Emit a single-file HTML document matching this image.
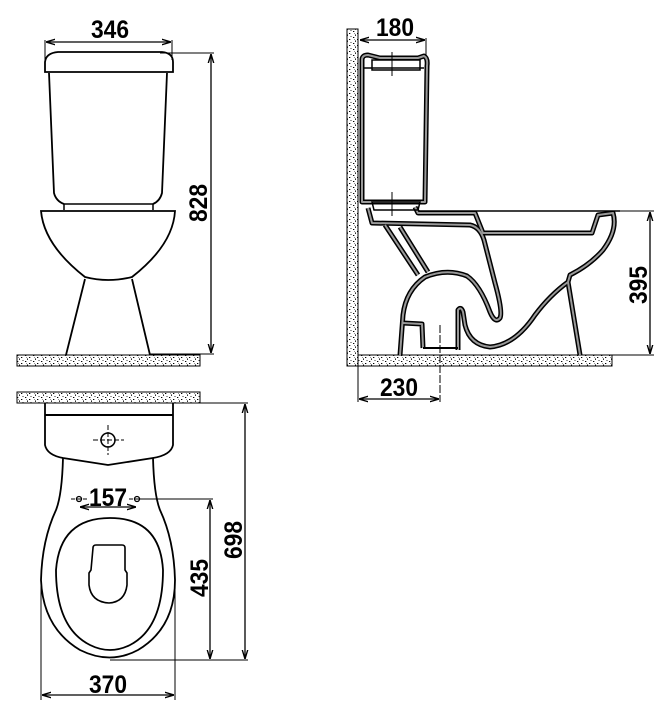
<!DOCTYPE html>
<html><head><meta charset="utf-8"><style>
html,body{margin:0;padding:0;background:#fff;width:671px;height:713px;overflow:hidden}
svg{display:block}
text{font-family:"Liberation Sans Narrow","Liberation Sans",sans-serif;font-weight:bold;font-size:25px;fill:#000}
</style></head><body>
<svg width="671" height="713" viewBox="0 0 671 713" xmlns="http://www.w3.org/2000/svg">
<defs>
<pattern id="h" width="8" height="6" patternUnits="userSpaceOnUse">
<rect width="8" height="6" fill="#fff"/>
<rect x="1" y="1" width="1.3" height="1" fill="#000"/><rect x="5" y="3" width="1.3" height="1" fill="#000"/>
<rect x="3" y="4.5" width="1" height="1.3" fill="#000"/><rect x="6.5" y="0" width="1" height="1" fill="#333"/>
<rect x="2" y="3" width="0.8" height="0.8" fill="#555"/>
</pattern>
<marker id="a" viewBox="0 0 10 10" refX="10" refY="5" markerWidth="7" markerHeight="7" orient="auto-start-reverse"><path d="M0,2 L10,5 L0,8" fill="none" stroke="#000" stroke-width="1.5"/></marker>
</defs>
<g fill="none" stroke="#000" stroke-width="1.3">
<!-- FRONT VIEW -->
<rect x="17" y="355" width="183" height="11" fill="url(#h)" stroke-width="1"/>
<path d="M45,72 L45,62 Q46,53 58,52 L162,52 Q173,53 173,62 L173,72 Z" stroke-width="1.8"/>
<path d="M49,73 L54,193 Q56,201 64,204 M167,73 L162,193 Q160,201 153,204" stroke-width="1.8"/>
<path d="M64,204 L153,204 M64,204 L64,210 M153,204 L153,210" stroke-width="1.5"/>
<path d="M41,211 L175,211 Q173,245 132,277 Q108,283 85,277 Q44,245 41,211 Z" stroke-width="1.8"/>
<path d="M85,279 L66,355 M132,279 L150,355" stroke-width="1.8"/>
<line x1="46" y1="42" x2="171" y2="42" marker-start="url(#a)" marker-end="url(#a)"/>
<line x1="45" y1="40" x2="45" y2="70" stroke-width="1"/><line x1="172" y1="40" x2="172" y2="60" stroke-width="1"/>
<line x1="160" y1="53" x2="214" y2="53" stroke-width="1"/><line x1="150" y1="354" x2="214" y2="354" stroke-width="1"/>
<line x1="211" y1="54" x2="211" y2="353" marker-start="url(#a)" marker-end="url(#a)"/>

<!-- TOP VIEW -->
<rect x="17" y="392" width="183" height="11" fill="url(#h)" stroke-width="1"/>
<path d="M45,403 L45,445 Q47,455 63,458 L108,465 L153,458 Q171,455 173,445 L173,403" stroke-width="1.8"/>
<line x1="45" y1="415" x2="173" y2="415" stroke-width="2"/>
<circle cx="108" cy="440" r="7" stroke-width="1.5"/>
<path d="M93,440 L124,440 M108,425 L108,455" stroke-width="1" stroke-dasharray="5,2"/>
<path d="M63,458 Q62,495 56,510 Q42,540 41,580 Q43,628 80,650 Q110,665 138,650 Q175,628 175,580 Q174,540 160,510 Q154,495 153,458" stroke-width="1.8"/>
<path d="M110,518 Q160,518 163,570 Q163,628 130,645 Q110,655 90,645 Q56,628 56,570 Q60,518 110,518 Z" stroke-width="1.8"/>
<path d="M93,548 Q93,545 96,545 L122,545 Q125,545 125,548 L125,570 L127,573 L127,585 Q125,602 109,603 Q91,602 89,585 L89,573 L91,570 Z" stroke-width="1.6"/>
<circle cx="79" cy="499" r="2.5"/><circle cx="137" cy="499" r="2.5"/>
<path d="M71,499 L87,499 M129,499 L145,499" stroke-width="1" stroke-dasharray="4,2"/>
<line x1="80" y1="507" x2="136" y2="507" marker-start="url(#a)" marker-end="url(#a)"/>
<line x1="140" y1="499" x2="213" y2="499" stroke-width="1"/>
<line x1="200" y1="403" x2="248" y2="403" stroke-width="1"/>
<line x1="110" y1="660" x2="248" y2="660" stroke-width="1"/>
<line x1="210" y1="500" x2="210" y2="659" marker-start="url(#a)" marker-end="url(#a)"/>
<line x1="245" y1="404" x2="245" y2="659" marker-start="url(#a)" marker-end="url(#a)"/>
<line x1="41" y1="580" x2="41" y2="700" stroke-width="1"/><line x1="175" y1="580" x2="175" y2="700" stroke-width="1"/>
<line x1="42" y1="695" x2="174" y2="695" marker-start="url(#a)" marker-end="url(#a)"/>

<!-- SIDE VIEW -->
<rect x="347" y="29" width="11" height="337" fill="url(#h)" stroke-width="1"/>
<rect x="358" y="355" width="254" height="11" fill="url(#h)" stroke-width="1"/>
<line x1="360" y1="40" x2="425" y2="40" marker-start="url(#a)" marker-end="url(#a)"/>
<line x1="426" y1="38" x2="426" y2="60" stroke-width="1"/>
<g stroke-linejoin="round">
<g stroke="#000" stroke-width="5">
<path d="M362,202 L362,60 Q362,55 368,55 L380,58 L418,58 L424,56 Q428,58 427,66 L425,202 Z"/>
<path d="M368,208 L372,223 L470,225 Q480,227 484,240 L495,283 Q503,312 500,318 Q495,324 490,312 Q480,285 467,276 Q447,268 425,277 Q406,290 403,315 L400,355"/>
<path d="M415,207 L418,213 L475,213 L483,233 L592,233 L598,215 L613,213 Q618,230 603,250 Q590,265 570,275 L568,282 Q550,295 535,315 Q515,345 490,347 Q470,345 465,325 L463,312 Q461,306 458,310 L458,350"/>
<path d="M385,225 L418,275 M400,227 L428,272"/>
<path d="M403,323 L422,324 L423,348"/>
<path d="M568,282 L580,355"/>
</g>
<g stroke="#999" stroke-width="2">
<path d="M362,202 L362,60 Q362,55 368,55 L380,58 L418,58 L424,56 Q428,58 427,66 L425,202 Z"/>
<path d="M368,208 L372,223 L470,225 Q480,227 484,240 L495,283 Q503,312 500,318 Q495,324 490,312 Q480,285 467,276 Q447,268 425,277 Q406,290 403,315 L400,355"/>
<path d="M415,207 L418,213 L475,213 L483,233 L592,233 L598,215 L613,213 Q618,230 603,250 Q590,265 570,275 L568,282 Q550,295 535,315 Q515,345 490,347 Q470,345 465,325 L463,312 Q461,306 458,310 L458,350"/>
<path d="M385,225 L418,275 M400,227 L428,272"/>
<path d="M403,323 L422,324 L423,348"/>
<path d="M568,282 L580,355"/>
</g>
</g>
<rect x="372" y="60" width="48" height="10" stroke-width="1.5"/>
<path d="M364,68 L424,68 M372,202 L420,202 L418,210 L374,210 Z" stroke-width="1.5"/>
<line x1="423" y1="348" x2="458" y2="348" stroke-width="2"/>
<line x1="418" y1="211" x2="620" y2="211" stroke-width="1.5"/>
<path d="M392,52 L392,76 M392,192 L392,216" stroke-width="1"/>
<line x1="440" y1="325" x2="440" y2="402" stroke-width="1" stroke-dasharray="8,2"/>
<line x1="358" y1="366" x2="358" y2="402" stroke-width="1"/>
<line x1="359" y1="399" x2="439" y2="399" marker-start="url(#a)" marker-end="url(#a)"/>
<line x1="615" y1="211" x2="654" y2="211" stroke-width="1"/>
<line x1="612" y1="355" x2="654" y2="355" stroke-width="1"/>
<line x1="650" y1="212" x2="650" y2="354" marker-start="url(#a)" marker-end="url(#a)"/>
</g>
<text x="91" y="38" textLength="38" lengthAdjust="spacingAndGlyphs">346</text>
<text x="89" y="506" textLength="38" lengthAdjust="spacingAndGlyphs">157</text>
<text x="89" y="693" textLength="38" lengthAdjust="spacingAndGlyphs">370</text>
<text x="376" y="36" textLength="38" lengthAdjust="spacingAndGlyphs">180</text>
<text x="380" y="396" textLength="38" lengthAdjust="spacingAndGlyphs">230</text>
<text transform="translate(207,222) rotate(-90)" textLength="38" lengthAdjust="spacingAndGlyphs">828</text>
<text transform="translate(208,597) rotate(-90)" textLength="38" lengthAdjust="spacingAndGlyphs">435</text>
<text transform="translate(242,559) rotate(-90)" textLength="38" lengthAdjust="spacingAndGlyphs">698</text>
<text transform="translate(647,304) rotate(-90)" textLength="38" lengthAdjust="spacingAndGlyphs">395</text>
</svg>
</body></html>
